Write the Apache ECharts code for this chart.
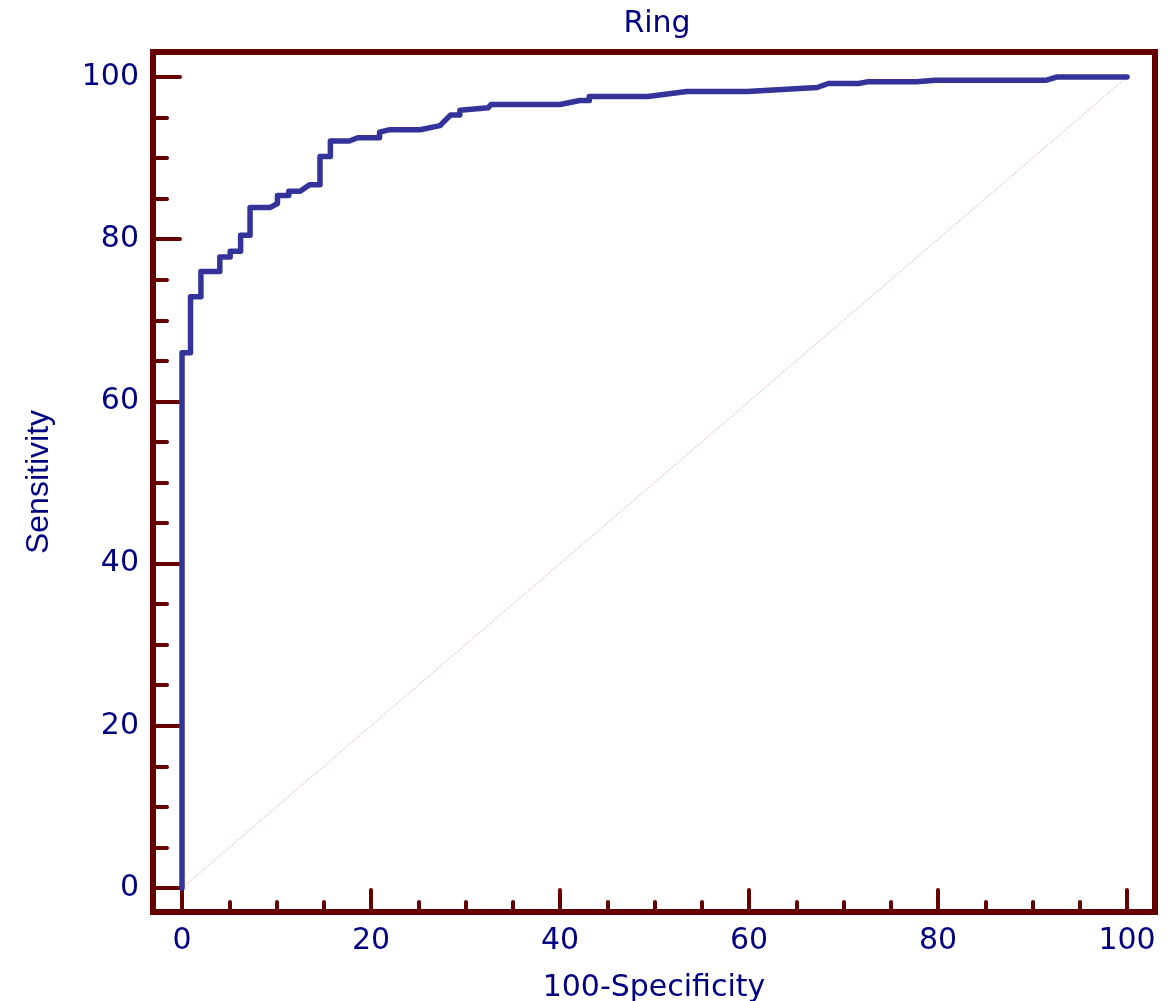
<!DOCTYPE html>
<html>
<head>
<meta charset="utf-8">
<script src="https://cdn.jsdelivr.net/npm/echarts@6/dist/echarts.min.js"></script>
<style>
  html, body { margin: 0; padding: 0; background: #fff; }
  #chart { width: 1176px; height: 1001px; }
</style>
</head>
<body>
<div id="chart"></div>
<script>
// ROC curve: 100-Specificity (x) vs Sensitivity (y)
const fpr = [0, 0, 0.9, 0.9, 2.0, 2.0, 4.0, 4.0, 5.1, 5.1, 6.2, 6.2, 7.2, 7.2, 9.3, 10.1, 10.1,
  11.3, 11.3, 12.5, 13.5, 14.6, 14.6, 15.7, 15.7, 17.7, 18.6, 20.9, 20.9, 22.0, 25.2, 27.3,
  28.4, 29.4, 29.4, 32.4, 32.7, 34.4, 40.0, 42.1, 43.1, 43.1, 49.3, 53.4, 59.8, 67.2, 68.4,
  71.6, 72.5, 77.7, 79.7, 91.5, 92.6, 100]
const tpr = [0, 66.0, 66.0, 72.9, 72.9, 76.0, 76.0, 77.8, 77.8, 78.5, 78.5, 80.5, 80.5, 83.9, 83.9, 84.4, 85.4,
  85.4, 85.9, 85.9, 86.7, 86.7, 90.2, 90.2, 92.1, 92.1, 92.5, 92.5, 93.2, 93.5, 93.5, 94.0,
  95.3, 95.3, 95.9, 96.2, 96.6, 96.6, 96.6, 97.1, 97.1, 97.6, 97.6, 98.2, 98.2, 98.7, 99.2,
  99.2, 99.4, 99.4, 99.6, 99.6, 100, 100]
const diagX = [0, 100]
const diagY = [0, 100]
const majorTicks = [0, 20, 40, 60, 80, 100]
const minorTicks = [5, 10, 15, 25, 30, 35, 45, 50, 55, 65, 70, 75, 85, 90, 95]

const frameColor = '#660000'
const textColor = '#000080'
const font = 'DejaVu Sans'

const chart = echarts.init(document.getElementById('chart'))

function majorAxis(extra) {
  return Object.assign({
    type: 'value',
    axisLine: { onZero: false, lineStyle: { color: frameColor, width: 6 } },
    splitLine: { show: false },
    nameLocation: 'middle'
  }, extra)
}
function minorAxis(extra) {
  return Object.assign({
    type: 'value',
    axisLine: { show: false, onZero: false },
    axisLabel: { show: false },
    splitLine: { show: false }
  }, extra)
}
function ticks(len, values) {
  return { inside: true, length: len, customValues: values, lineStyle: { color: frameColor, width: 4, cap: 'round' } }
}

const xMin = -3.07, xMax = 102.96
const yMin = -2.96, yMax = 103.08

const option = {
  animation: false,
  title: {
    text: 'Ring',
    left: 657,
    textAlign: 'center',
    top: 9,
    padding: 0,
    textStyle: { color: textColor, fontSize: 30, fontWeight: 'normal', fontFamily: font }
  },
  grid: {
    left: 153, right: 21, top: 52, bottom: 89,
    containLabel: false,
    outerBoundsMode: 'none',
    show: true, borderColor: frameColor, borderWidth: 6
  },
  xAxis: [
    majorAxis({
      min: xMin, max: xMax, position: 'bottom',
      name: '100-Specificity', nameGap: 61,
      nameTextStyle: { color: textColor, fontSize: 30, fontFamily: font },
      axisTick: ticks(22, majorTicks),
      axisLabel: { customValues: majorTicks, margin: 14, color: textColor, fontSize: 30, fontFamily: font }
    }),
    minorAxis({ min: xMin, max: xMax, position: 'bottom', axisTick: ticks(10, minorTicks) })
  ],
  yAxis: [
    majorAxis({
      min: yMin, max: yMax, position: 'left',
      name: 'Sensitivity', nameGap: 98,
      nameTextStyle: { color: textColor, fontSize: 32, fontFamily: 'Liberation Sans' },
      axisTick: ticks(27, majorTicks),
      axisLabel: { customValues: majorTicks, margin: 14, color: textColor, fontSize: 30, fontFamily: font }
    }),
    minorAxis({ min: yMin, max: yMax, position: 'left', axisTick: ticks(14, minorTicks) })
  ],
  series: [
    {
      type: 'line',
      data: diagX.map((x, i) => [x, diagY[i]]),
      symbol: 'none',
      silent: true,
      lineStyle: { color: '#e0a0a8', width: 1, type: 'dotted' },
      z: 1
    },
    {
      type: 'line',
      data: fpr.map((x, i) => [x, tpr[i]]),
      symbol: 'none',
      lineStyle: { color: '#333399', width: 5.5, cap: 'round', join: 'round' },
      z: 3
    }
  ]
}
chart.setOption(option)
</script>
</body>
</html>
